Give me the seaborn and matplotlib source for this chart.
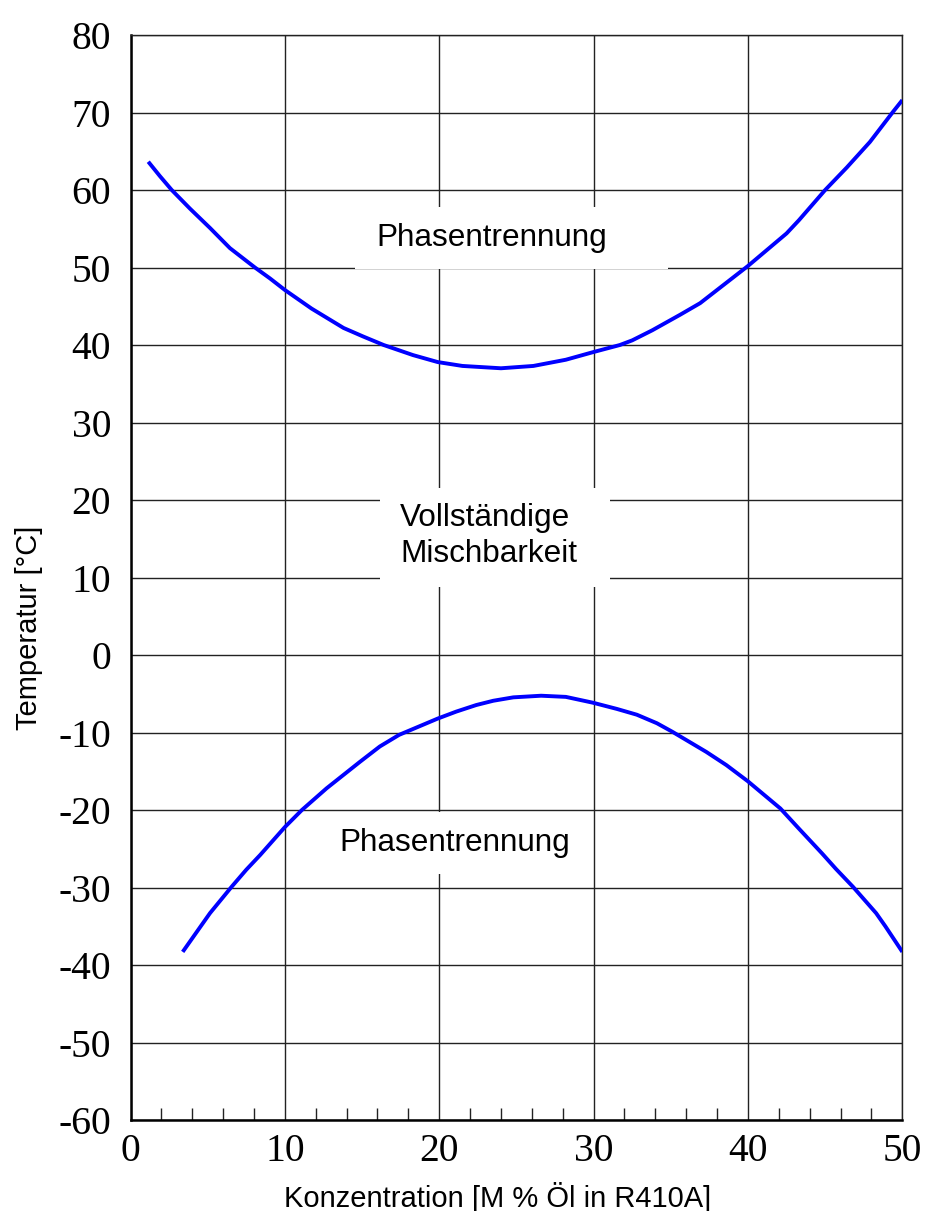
import numpy as np
import pandas as pd
import matplotlib
matplotlib.use("Agg")
import matplotlib.pyplot as plt
from matplotlib.patches import Rectangle
import seaborn as sns

# ---- data ----
upper_x = [1.15, 1.9, 2.67, 3.85, 5.15, 6.44, 8.06, 9.03, 10.0, 11.73, 13.8, 15.07, 16.4,
           18.3, 19.9, 21.5, 24.0, 26.1, 28.2, 30.0, 31.7, 32.5, 33.8, 35.6, 36.9, 40.0,
           42.5, 43.3, 45.0, 46.4, 47.9, 49.4, 50.0]
upper_y = [63.65, 61.8, 60.0, 57.6, 55.1, 52.5, 50.0, 48.6, 47.1, 44.7, 42.2, 41.1, 40.0,
           38.7, 37.8, 37.3, 37.0, 37.3, 38.1, 39.1, 40.0, 40.6, 41.9, 43.9, 45.4, 50.2,
           54.4, 56.1, 60.0, 62.9, 66.2, 70.1, 71.6]

lower_x = [3.38, 4.3, 5.15, 6.55, 7.5, 8.4, 10.0, 11.1, 12.7, 14.85, 16.15, 17.4, 19.9,
           21.1, 22.4, 23.5, 24.8, 26.6, 28.2, 29.95, 31.5, 32.8, 34.1, 35.1, 36.2, 37.3,
           38.6, 40.0, 41.2, 42.1, 43.3, 44.8, 45.7, 46.8, 48.3, 48.9, 50.0]
lower_y = [-38.3, -35.7, -33.3, -29.9, -27.7, -25.8, -22.2, -20.0, -17.2, -13.8, -11.8, -10.3, -8.2,
           -7.3, -6.45, -5.9, -5.46, -5.25, -5.4, -6.15, -6.95, -7.7, -8.8, -9.9, -11.2, -12.5,
           -14.2, -16.3, -18.3, -19.8, -22.4, -25.6, -27.6, -29.9, -33.3, -35.0, -38.3]

x_ticks = [0, 10, 20, 30, 40, 50]
x_minor = [2, 4, 6, 8, 12, 14, 16, 18, 22, 24, 26, 28, 32, 34, 36, 38, 42, 44, 46, 48]
y_ticks = [80, 70, 60, 50, 40, 30, 20, 10, 0, -10, -20, -30, -40, -50, -60]
y_ticklabels = ["80", "70", "60", "50", "40", "30", "20", "10", "0",
                "-10", "-20", "-30", "-40", "-50", "-60"]

x_label = "Konzentration [M % Öl in R410A]"
y_label = "Temperatur [°C]"
label_upper = "Phasentrennung"
label_middle = "Vollständige\nMischbarkeit"
label_lower = "Phasentrennung"

# ---- style ----
sns.set_theme(style="white")
plt.rcParams["font.family"] = ["Liberation Sans", "DejaVu Sans"]
plt.rcParams["axes.unicode_minus"] = False
plt.rcParams["text.color"] = "black"
plt.rcParams["axes.labelcolor"] = "black"

df_up = pd.DataFrame({"x": upper_x, "y": upper_y})
df_lo = pd.DataFrame({"x": lower_x, "y": lower_y})

fig = plt.figure(figsize=(9.25, 12.11), dpi=100)
ax = fig.add_axes([0.1411, 0.0751, 0.8344, 0.8960])

for d in (df_up, df_lo):
    sns.lineplot(data=d, x="x", y="y", ax=ax, color="#0000FF", lw=2.8,
                 sort=False, estimator=None, zorder=3,
                 solid_joinstyle="round", solid_capstyle="butt")

ax.set_xlim(0, 50)
ax.set_ylim(-60, 80)
ax.set_xticks(x_ticks)
ax.set_xticks(x_minor, minor=True)
ax.set_yticks(y_ticks)
ax.set_yticklabels(y_ticklabels)

serif = ["Liberation Serif", "DejaVu Serif"]
for lab in ax.get_xticklabels() + ax.get_yticklabels():
    lab.set_fontfamily(serif)
    lab.set_fontsize(28.5)
    lab.set_color("black")

ax.tick_params(axis="x", which="major", length=0, pad=9)
ax.tick_params(axis="y", which="major", length=0, pad=14)
ax.tick_params(axis="x", which="minor", direction="in", length=9, width=1.0,
               color="#222222", bottom=True, top=False)

ax.set_axisbelow(True)
ax.grid(True, which="major", color="#222222", linewidth=1.0)

for s in ["left", "bottom"]:
    ax.spines[s].set_color("black")
    ax.spines[s].set_linewidth(1.8)
for s in ["top", "right"]:
    ax.spines[s].set_color("#222222")
    ax.spines[s].set_linewidth(1.0)

# white label boxes covering the grid
ax.add_patch(Rectangle((14.53, 49.8), 20.32, 8.0, facecolor="white", edgecolor="none", zorder=1))
ax.add_patch(Rectangle((16.15, 8.8), 14.93, 12.7, facecolor="white", edgecolor="none", zorder=1))
ax.add_patch(Rectangle((12.3, -28.3), 17.5, 8.1, facecolor="white", edgecolor="none", zorder=1))

ax.text(23.4, 53.8, label_upper, fontsize=22.7, ha="center", va="center", zorder=4)
ax.text(23.2, 15.35, label_middle, fontsize=22.7, ha="center", va="center",
        multialignment="left", linespacing=1.25, zorder=4)
ax.text(21.0, -24.3, label_lower, fontsize=22.7, ha="center", va="center", zorder=4)

ax.set_xlabel(x_label, fontsize=21)
ax.set_ylabel(y_label, fontsize=21)
ax.xaxis.set_label_coords(0.476, -0.057)
ax.yaxis.set_label_coords(-0.113, 0.4535)

fig.savefig("out.png", dpi=100)
